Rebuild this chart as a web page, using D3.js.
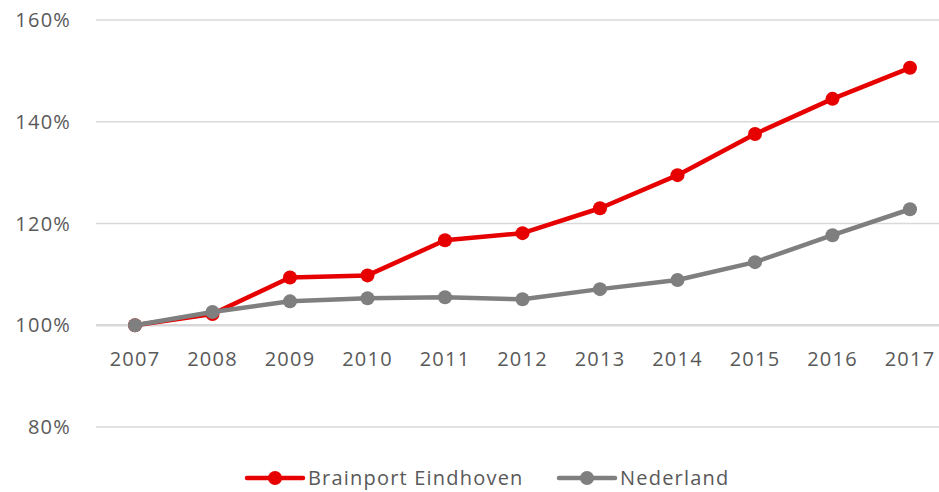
<!DOCTYPE html>
<html>
<head>
<meta charset="utf-8">
<script src="https://cdn.jsdelivr.net/npm/d3@7"></script>
<style>
  body { margin: 0; background: #fff; }
  text { font-family: "Open Sans", sans-serif; fill: #595959; font-size: 20px; letter-spacing: 1.2px; }
</style>
</head>
<body>
<svg width="939" height="492"></svg>
<script>
// Data
const years = ["2007", "2008", "2009", "2010", "2011", "2012", "2013", "2014", "2015", "2016", "2017"];
const brainport = [100, 102.2, 109.4, 109.8, 116.7, 118.1, 123.0, 129.5, 137.6, 144.5, 150.6];
const nederland = [100, 102.6, 104.7, 105.3, 105.5, 105.1, 107.1, 108.9, 112.4, 117.7, 122.8];
const yTicks = [80, 100, 120, 140, 160];
const seriesNames = ["Brainport Eindhoven", "Nederland"];
const seriesColors = ["#e60000", "#7f7f7f"];

const svg = d3.select("svg");

// Scales
const x = d3.scalePoint()
    .domain(years)
    .range([135, 910]);

const y = d3.scaleLinear()
    .domain([80, 160])
    .range([427, 20]);

// Gridlines
svg.append("g")
    .selectAll("line")
    .data(yTicks)
    .join("line")
    .attr("x1", 96)
    .attr("x2", 939)
    .attr("y1", d => y(d))
    .attr("y2", d => y(d))
    .attr("stroke", "#d9d9d9")
    .attr("stroke-width", d => d === 100 ? 2.5 : 1.5);

// Y labels
svg.append("g")
    .selectAll("text")
    .data(yTicks)
    .join("text")
    .attr("x", 71)
    .attr("y", d => y(d))
    .attr("dy", "0.35em")
    .attr("text-anchor", "end")
    .text(d => d + "%");

// X labels, sitting under the 100% line
svg.append("g")
    .selectAll("text")
    .data(years)
    .join("text")
    .attr("x", d => x(d))
    .attr("y", y(100) + 34)
    .attr("dy", "0.35em")
    .attr("text-anchor", "middle")
    .text(d => d);

// Lines and markers
const series = [brainport, nederland];
const line = d3.line()
    .x((d, i) => x(years[i]))
    .y(d => y(d));

series.forEach((vals, s) => {
    svg.append("path")
        .datum(vals)
        .attr("fill", "none")
        .attr("stroke", seriesColors[s])
        .attr("stroke-width", 4.5)
        .attr("stroke-linejoin", "round")
        .attr("d", line);

    svg.append("g")
        .selectAll("circle")
        .data(vals)
        .join("circle")
        .attr("cx", (d, i) => x(years[i]))
        .attr("cy", d => y(d))
        .attr("r", 7)
        .attr("fill", seriesColors[s]);
});

// Legend
const legendX = [247, 559];
const legend = svg.append("g");
seriesNames.forEach((name, s) => {
    const g = legend.append("g").attr("transform", `translate(${legendX[s]},478)`);
    g.append("line")
        .attr("x1", 0).attr("x2", 56)
        .attr("stroke", seriesColors[s])
        .attr("stroke-width", 4.5)
        .attr("stroke-linecap", "round");
    g.append("circle")
        .attr("cx", 28)
        .attr("r", 7)
        .attr("fill", seriesColors[s]);
    g.append("text")
        .attr("x", 61)
        .attr("dy", "0.35em")
        .text(name);
});
</script>
</body>
</html>
